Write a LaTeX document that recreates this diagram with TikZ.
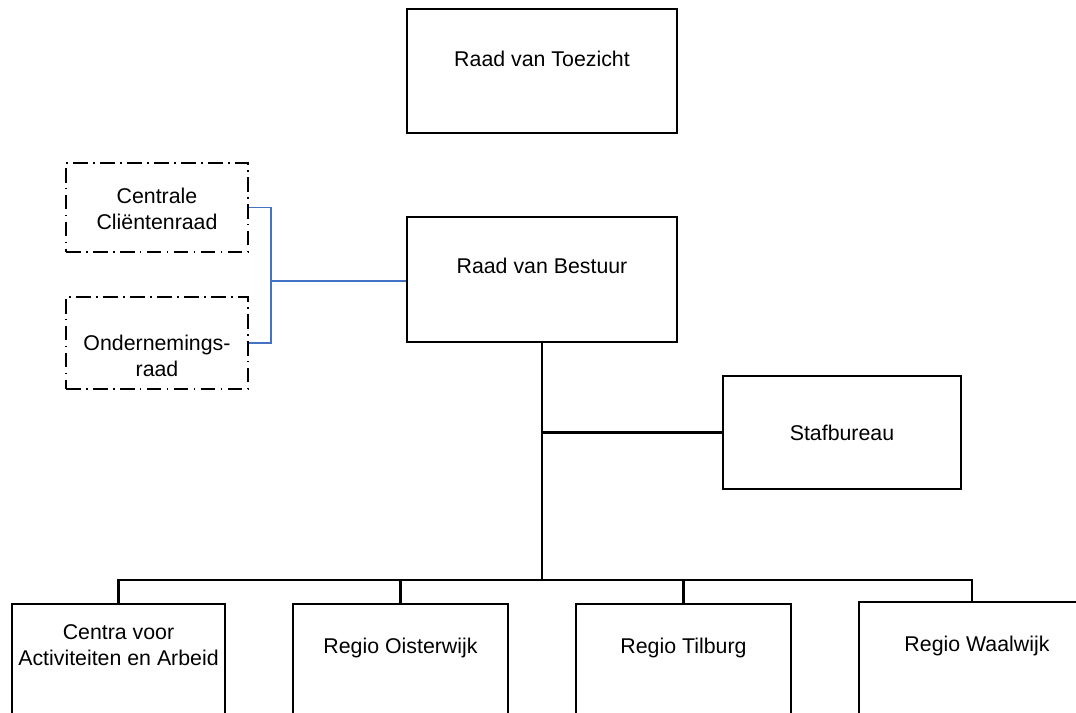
\documentclass[tikz,border=0pt]{standalone}
\usepackage{fontspec}
\setmainfont{Liberation Sans}
\usepackage{tikz}
\usetikzlibrary{positioning, calc}

\definecolor{linkblue}{RGB}{68,114,196}

\begin{document}
\begin{tikzpicture}[
  x=0.75pt, y=-0.75pt,
  font=\fontsize{16}{19.5}\selectfont,
  wh/.style 2 args={minimum width=#1*0.75pt, minimum height=#2*0.75pt},
  box/.style={draw, line width=1.4pt, inner sep=0pt},
  advies/.style={draw, line width=1.4pt, inner sep=0pt,
    dash pattern=on 11pt off 4pt on 1.2pt off 4pt},
  lbl/.style={align=center, inner sep=0pt},
  con/.style={line width=1.6pt},
  blu/.style={line width=1.3pt, linkblue},
]
  \useasboundingbox (0,0) rectangle (1076,713);
  \clip (0,0) rectangle (1076,713);

  % Top of the organisation
  \node[box, wh={270}{124}] (rvt) at (542, 71)    {};
  \node[box, wh={270}{125}] (rvb) at (542, 279.5) {};
  \node[lbl] (rvt-txt) at (542, 59)  {Raad van Toezicht};
  \node[lbl] (rvb-txt) at (542, 266) {Raad van Bestuur};

  % Advisory councils (dash-dot)
  \node[advies, wh={182}{89}] (ccr) at (157, 207.5) {};
  \node[advies, wh={182}{92}] (or)  at (157, 343)   {};
  \node[lbl] (ccr-txt) at (157, 209) {Centrale\\Cliëntenraad};
  \node[lbl] (or-txt)  at (157, 356) {Ondernemings-\\raad};

  % Staff
  \node[box, wh={238}{113}] (staf) at (842, 432.5) {};
  \node[lbl] (staf-txt) at (842, 433) {Stafbureau};

  % Divisions (run off the page at the bottom)
  \node[box, wh={213}{130}] (caa)  at (118.5, 669) {};
  \node[box, wh={215}{130}] (oist) at (400.5, 669) {};
  \node[box, wh={215}{130}] (tilb) at (683.5, 669) {};
  \node[box, wh={226}{132}] (waal) at (972, 668)   {};
  \node[lbl] (caa-txt)  at (118.5, 645) {Centra voor\\Activiteiten en Arbeid};
  \node[lbl] (oist-txt) at (400.5, 648) {Regio Oisterwijk};
  \node[lbl] (tilb-txt) at (683.5, 648) {Regio Tilburg};
  \node[lbl] (waal-txt) at (977, 646)   {Regio Waalwijk};

  % Joints
  \coordinate (bj)  at (271, 281);
  \coordinate (sj)  at (542, 432.5);
  \coordinate (bus) at (542, 580);

  % Blue link to the councils
  \draw[blu] (ccr.east) -| (bj) |- (or.east);
  \draw[blu] (bj) -- (bj -| rvb.west);

  % Hierarchy
  \draw[con] (rvb.south) -- (bus);
  \draw[con] (sj) -- (staf.west);
  \foreach \b in {caa, oist, tilb, waal}
    \draw[con] (bus) -| (\b.north);
\end{tikzpicture}
\end{document}
